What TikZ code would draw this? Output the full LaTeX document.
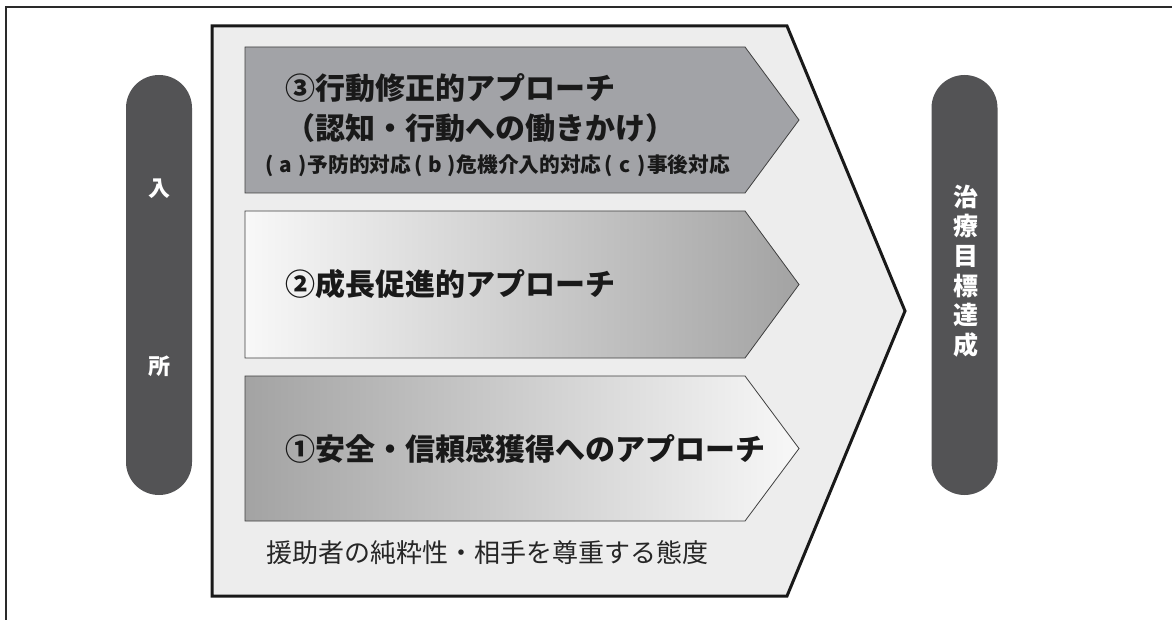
\documentclass[tikz,border=0pt]{standalone}
\usepackage{fontspec}
\newfontfamily\jp{Noto Sans CJK JP}
\definecolor{pillgray}{HTML}{535355}
\definecolor{panelgray}{HTML}{EDEDED}
\definecolor{arrowgray}{HTML}{A2A3A7}
\definecolor{gradgray}{HTML}{A3A3A3}
\definecolor{gradwhite}{HTML}{F8F8F8}
\definecolor{framegray}{HTML}{2A2A2A}
\newcommand\parlbl[1]{\makebox[2.2em][s]{\hspace{0.15em}(\hfill#1\hfill)\hspace{0.05em}}}
\tikzset{
  frameline/.style={line width=2pt, draw=framegray},
  panel/.style={line width=3pt, draw=black!90, fill=panelgray, line join=miter},
  arrowbox/.style={line width=0.8pt, draw=black!75},
  pill/.style={fill=pillgray, draw=none, rounded corners=33pt, minimum width=66pt, minimum height=420pt, inner sep=0pt},
  headline/.style={font=\jp\bfseries\fontsize{30pt}{36pt}\selectfont, anchor=west, inner sep=0pt, text=black!90},
  subline/.style={font=\jp\bfseries\fontsize{20.7pt}{24pt}\selectfont, inner sep=0pt, text=black!90},
  caption/.style={font=\jp\fontsize{26pt}{30pt}\selectfont, anchor=west, inner sep=0pt, text=black!85},
  pilltext/.style={font=\jp\bfseries\fontsize{22pt}{26pt}\selectfont, text=white, inner sep=0pt},
  goaltext/.style={font=\jp\bfseries\fontsize{25pt}{29.7pt}\selectfont, text=white, inner sep=0pt, align=center}
}
\begin{document}
\begin{tikzpicture}[x=1pt,y=-1pt]
\useasboundingbox (0,0) rectangle (1172,620);
% frame (top and left only)
\coordinate (fbl) at (6,620);
\coordinate (ftl) at (6,7);
\coordinate (ftr) at (1172,7);
\draw[frameline] (fbl) -- (ftl) -- (ftr);
% pills
\node[pill] (entry) at (159,285) {};
\node[pill] (goal) at (964.5,285) {};
\node[pilltext] (nyu) at (159,189) {入};
\node[pilltext] (sho) at (159,366) {所};
\node[goaltext] (goalt) at (966,271) {治\\療\\目\\標\\達\\成};
% big pentagon panel
\draw[panel] (212,26) -- (787,26) -- (905,311) -- (787,596) -- (212,596) -- cycle;
% arrow 3
\draw[arrowbox, fill=arrowgray] (245,47) -- (745,47) -- (799,120) -- (745,193) -- (245,193) -- cycle;
% arrow 2
\shade[arrowbox, left color=gradwhite, right color=gradgray] (245,211) -- (745,211) -- (799,284.5) -- (745,358) -- (245,358) -- cycle;
% arrow 1
\shade[arrowbox, left color=gradgray, right color=gradwhite] (245,376) -- (745,376) -- (799,448.5) -- (745,521) -- (245,521) -- cycle;
% texts
\node[headline] (t3a) at (285,88) {③行動修正的アプローチ};
\node[headline] (t3b) at (285,128) {（認知・行動への働きかけ）};
\node[subline] (t3c) at (496,166) {\parlbl{a}予防的対応\parlbl{b}危機介入的対応\parlbl{c}事後対応};
\node[headline] (t2) at (285,284.5) {②成長促進的アプローチ};
\node[headline] (t1) at (285,448.5) {①安全・信頼感獲得へのアプローチ};
\node[caption] (cap) at (266,553) {援助者の純粋性・相手を尊重する態度};
\end{tikzpicture}
\end{document}
